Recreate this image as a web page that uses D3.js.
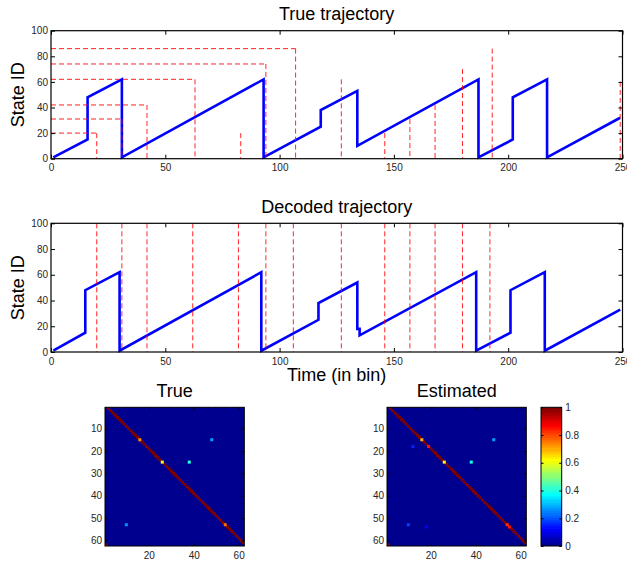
<!DOCTYPE html>
<html><head><meta charset="utf-8">
<script src="https://cdn.jsdelivr.net/npm/d3@7"></script>
<style>
body{margin:0;background:#fff}
svg{display:block}
text{font-family:"Liberation Sans",Arial,Helvetica,sans-serif}
</style>
</head><body>
<svg id="c" width="627" height="563"></svg>
<script>
// ---------------- DATA ----------------
// Trajectory vertices (time bin, state id)
const trueTimes  = [1,16,16,31,31,93,93,118,118,134,134,187,187,202,202,217,217,249];
const trueStates = [1,15,48,62,1,62,1,25,38,53,10,62,1,15,48,62,1,32];

const decTimes   = [1,15,15,30,30,92,92,117,117,134,134,135,135,186,186,201,201,216,216,249];
const decStates  = [1,15,48,62,1,62,1,25,38,54,18,18,13,62,1,15,48,62,1,33];

// Red dashed markers in the true-trajectory panel
const trueMarkTimes   = [20,31,42,63,83,94,107,127,146,157,168,180,193,249];
const trueMarkHeights = [20,31,42,62,20,74,86,62,20,31,42,70,86,60];
const trueMarkHoriz   = [1,1,1,1,0,1,1,0,0,0,0,0,0,0];

// Red dashed markers in the decoded panel (full height)
const decMarkTimes = [20,31,42,62,82,94,106,127,146,157,168,180,192,250];

// Transition matrices: probability of state s -> s+1 (s = 1..61)
const nStates = 62;
const trueStepProb = [
 1,1,1,1,1,1,1,1,1,1,
 1,1,1,1,0.72,1,1,1,1,1,
 1,1,1,1,0.6,1,1,1,1,1,
 1,1,1,1,1,1,1,1,1,1,
 1,1,1,1,1,1,1,1,1,1,
 1,1,0.75,1,1,1,1,1,1,1,
 1];
const trueJumpFrom = [15,25,53,62];
const trueJumpTo   = [48,38,10,1];
const trueJumpProb = [0.28,0.4,0.25,1];

const estStepProb = [
 1,1,1,1,1,1,1,1,1,1,
 1,1,1,1,0.7,1,1,0.85,1,1,
 1,1,1,1,0.62,1,1,1,1,1,
 1,1,1,1,1,1,1,1,1,1,
 1,1,1,1,1,1,1,1,1,1,
 1,1,0.82,0.85,1,1,1,1,1,1,
 1];
const estJumpFrom = [15,18,25,53,54,62];
const estJumpTo   = [48,12,38,10,18,1];
const estJumpProb = [0.28,0.15,0.38,0.18,0.12,1];

// Tick values / labels
const lineXTicks = [0,50,100,150,200,250];
const lineYTicks = [0,20,40,60,80,100];
const matYTicks = [10,20,30,40,50,60];
const matXTicks = [20,40,60];
const cbTicks = [0,0.2,0.4,0.6,0.8,1];
const cbLabels = ["0","0.2","0.4","0.6","0.8","1"];

// ---------------- STYLE / HELPERS ----------------
const svg = d3.select("#c");
const TXT = "#262626";

// MATLAB jet(64) colormap
function jetIdx(i){ // i = 1..64
  const c = v => Math.max(0, Math.min(1, v));
  const r = c(Math.min((i-24)/16, (72-i)/16));
  const g = c(Math.min((i-8)/16, (56-i)/16));
  const b = c(Math.min((i+8)/16, (40-i)/16));
  return d3.rgb(r*255, g*255, b*255).formatHex();
}
function jet(v){
  let i = Math.floor(v*64)+1;
  i = Math.max(1, Math.min(64, i));
  return jetIdx(i);
}

function linePanel(top, bottom, times, states, title, titleY, markFn){
  const x = d3.scaleLinear().domain([0,250]).range([51,622.5]);
  const y = d3.scaleLinear().domain([0,100]).range([bottom, top]);
  const g = svg.append("g");

  const line = d3.line().x(d=>x(d[0])).y(d=>y(d[1]));
  g.append("path").datum(times.map((t,i)=>[t,states[i]]))
    .attr("d", line).attr("fill","none").attr("stroke","#0000ff")
    .attr("stroke-width",2.6).attr("stroke-linejoin","miter");

  markFn(g, x, y);

  const ax = (gen, tx, ty) => {
    const a = g.append("g").attr("transform",`translate(${tx},${ty})`).call(gen);
    a.select(".domain").remove();
    a.selectAll("line").attr("stroke","#000");
    a.selectAll("text").attr("fill",TXT).style("font-size","10px")
      .style("font-family",'"Liberation Sans",Arial,sans-serif');
    return a;
  };
  ax(d3.axisBottom(x).tickValues(lineXTicks).tickSizeInner(-4).tickSizeOuter(0).tickPadding(5.4), 0, bottom);
  ax(d3.axisTop(x).tickValues(lineXTicks).tickSizeInner(-4).tickSizeOuter(0).tickFormat(""), 0, top);
  ax(d3.axisLeft(y).tickValues(lineYTicks).tickSizeInner(-4).tickSizeOuter(0).tickPadding(3), 51, 0);
  ax(d3.axisRight(y).tickValues(lineYTicks).tickSizeInner(-4).tickSizeOuter(0).tickFormat(""), 622.5, 0);

  g.append("rect").attr("x",51).attr("y",top).attr("width",622.5-51).attr("height",bottom-top)
    .attr("fill","none").attr("stroke","#000").attr("stroke-width",1.2);

  g.append("text").attr("x",336.7).attr("y",titleY).attr("text-anchor","middle")
    .style("font-size","18px").attr("fill","#000").text(title);
  g.append("text").attr("transform",`translate(24,${(top+bottom)/2}) rotate(-90)`)
    .attr("text-anchor","middle").style("font-size","18px").attr("fill","#000").text("State ID");
}

const dash = "5,3";

linePanel(30.7, 158.7, trueTimes, trueStates, "True trajectory", 20, (g,x,y)=>{
  const m = trueMarkTimes.map((t,i)=>({t, h:trueMarkHeights[i], hz:trueMarkHoriz[i]}));
  g.selectAll("path.hz").data(m.filter(d=>d.hz)).enter().append("path").attr("class","hz")
    .attr("d", d=>`M${x(0)},${y(d.h)}H${x(d.t)}`)
    .attr("fill","none").attr("stroke","#ff0000").attr("stroke-width",1).attr("stroke-dasharray",dash).attr("opacity",0.85);
  g.selectAll("path.vt").data(m).enter().append("path").attr("class","vt")
    .attr("d", d=>`M${x(d.t)},${y(d.h)}V${y(0)}`)
    .attr("fill","none").attr("stroke","#ff0000").attr("stroke-width",1).attr("stroke-dasharray",dash).attr("opacity",0.85);
});

linePanel(223.3, 352, decTimes, decStates, "Decoded trajectory", 213, (g,x,y)=>{
  g.selectAll("path.vt").data(decMarkTimes).enter().append("path").attr("class","vt")
    .attr("d", t=>`M${x(t)},${y(100)}V${y(0)}`)
    .attr("fill","none").attr("stroke","#ff0000").attr("stroke-width",1).attr("stroke-dasharray",dash).attr("opacity",0.85);
});

svg.append("text").attr("x",336.7).attr("y",381).attr("text-anchor","middle")
  .style("font-size","18px").attr("fill","#000").text("Time (in bin)");

// ---------------- MATRICES ----------------
function buildMatrix(step, jf, jt, jp){
  const cells = [];
  for(let r=1;r<=nStates;r++) for(let c=1;c<=nStates;c++) cells.push({r,c,v:0});
  const set = (r,c,v)=>{ cells[(r-1)*nStates+(c-1)].v = v; };
  step.forEach((v,i)=>set(i+1,i+2,v));
  jf.forEach((f,i)=>set(f,jt[i],jp[i]));
  return cells;
}

function matrixPanel(left, right, top, bottom, cells, title){
  const x = d3.scaleLinear().domain([0.5,nStates+0.5]).range([left,right]);
  const y = d3.scaleLinear().domain([0.5,nStates+0.5]).range([top,bottom]);
  const g = svg.append("g");
  const cw = x(1.5)-x(0.5), ch = y(1.5)-y(0.5);
  const clipId = "clip"+Math.round(left);
  g.append("clipPath").attr("id",clipId).append("rect")
    .attr("x",left).attr("y",top).attr("width",right-left).attr("height",bottom-top);
  const img = g.append("g").attr("clip-path",`url(#${clipId})`);
  // zero cells: crisp so the background is seamless
  img.append("g").attr("shape-rendering","crispEdges")
    .selectAll("rect").data(cells.filter(d=>d.v===0)).enter().append("rect")
    .attr("x",d=>x(d.c-0.5)).attr("y",d=>y(d.r-0.5))
    .attr("width",cw+0.6).attr("height",ch+0.6)
    .attr("fill",d=>jet(d.v));
  // non-zero cells: smooth, slightly spread like the resampled image
  const pad = 0.4;
  img.append("g")
    .selectAll("rect").data(cells.filter(d=>d.v>0).sort((a,b)=>b.v-a.v)).enter().append("rect")
    .attr("x",d=>x(d.c-0.5)-pad).attr("y",d=>y(d.r-0.5)-pad)
    .attr("width",cw+2*pad).attr("height",ch+2*pad)
    .attr("fill",d=>jet(d.v));
  const ax = (gen, tx, ty) => {
    const a = g.append("g").attr("transform",`translate(${tx},${ty})`).call(gen);
    a.select(".domain").remove();
    a.selectAll("line").attr("stroke","#000");
    a.selectAll("text").attr("fill",TXT).style("font-size","10px")
      .style("font-family",'"Liberation Sans",Arial,sans-serif');
  };
  ax(d3.axisLeft(y).tickValues(matYTicks).tickSizeInner(-2.5).tickSizeOuter(0).tickPadding(3), left, 0);
  ax(d3.axisRight(y).tickValues(matYTicks).tickSizeInner(-2.5).tickSizeOuter(0).tickFormat(""), right, 0);
  ax(d3.axisBottom(x).tickValues(matXTicks).tickSizeInner(-2.5).tickSizeOuter(0).tickPadding(6), 0, bottom);
  ax(d3.axisTop(x).tickValues(matXTicks).tickSizeInner(-2.5).tickSizeOuter(0).tickFormat(""), 0, top);
  g.append("rect").attr("x",left).attr("y",top).attr("width",right-left).attr("height",bottom-top)
    .attr("fill","none").attr("stroke","#000").attr("stroke-width",1);
  g.append("text").attr("x",(left+right)/2).attr("y",396.7).attr("text-anchor","middle")
    .style("font-size","18px").attr("fill","#000").text(title);
}

matrixPanel(105, 244.3, 407.3, 546, buildMatrix(trueStepProb,trueJumpFrom,trueJumpTo,trueJumpProb), "True");
matrixPanel(387, 526.3, 407.3, 546, buildMatrix(estStepProb,estJumpFrom,estJumpTo,estJumpProb), "Estimated");

// ---------------- COLORBAR ----------------
(function(){
  const left=541, right=561.7, top=407.3, bottom=546;
  const y = d3.scaleLinear().domain([0,1]).range([bottom,top]);
  const defs = svg.append("defs");
  const grad = defs.append("linearGradient").attr("id","jetgrad")
    .attr("x1",0).attr("y1",1).attr("x2",0).attr("y2",0);
  const levels = d3.range(1,65);
  levels.forEach(i=>{
    grad.append("stop").attr("offset",(i-1)/64).attr("stop-color",jetIdx(i));
    grad.append("stop").attr("offset",i/64).attr("stop-color",jetIdx(i));
  });
  svg.append("rect").attr("x",left).attr("y",top).attr("width",right-left).attr("height",bottom-top)
    .attr("fill","url(#jetgrad)");
  const ax = (gen, tx) => {
    const a = svg.append("g").attr("transform",`translate(${tx},0)`).call(gen);
    a.select(".domain").remove();
    a.selectAll("line").attr("stroke","#000");
    a.selectAll("text").attr("fill",TXT).style("font-size","10px")
      .style("font-family",'"Liberation Sans",Arial,sans-serif');
  };
  ax(d3.axisRight(y).tickValues(cbTicks).tickFormat((d,i)=>cbLabels[i]).tickSizeInner(-2.5).tickSizeOuter(0).tickPadding(3.5), right);
  ax(d3.axisLeft(y).tickValues(cbTicks).tickFormat("").tickSizeInner(-2.5).tickSizeOuter(0), left);
  svg.append("rect").attr("x",left).attr("y",top).attr("width",right-left).attr("height",bottom-top)
    .attr("fill","none").attr("stroke","#000").attr("stroke-width",1);
})();
</script>
</body></html>
